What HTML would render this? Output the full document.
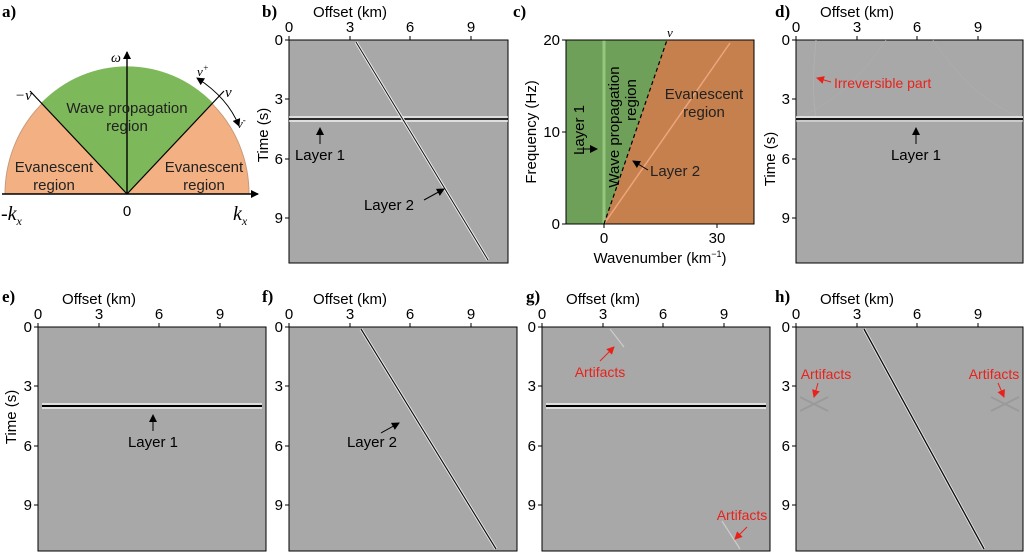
<!DOCTYPE html>
<html><head><meta charset="utf-8"><style>
body{margin:0;background:#fff}
svg{display:block;font-family:"Liberation Sans",sans-serif}
.pl{font-family:"Liberation Serif",serif;font-weight:bold;font-size:17px}
.t{font-size:15px}
.r{fill:#e8221b;font-size:14px}
</style></head><body>
<svg width="1024" height="552" viewBox="0 0 1024 552">
<defs>
<marker id="ah" markerWidth="8" markerHeight="8" refX="7" refY="4" orient="auto" markerUnits="userSpaceOnUse"><path d="M0,0 L8,4 L0,8 z" fill="#000"/></marker>
<marker id="ahs" markerWidth="8" markerHeight="8" refX="1" refY="4" orient="auto" markerUnits="userSpaceOnUse"><path d="M8,0 L0,4 L8,8 z" fill="#000"/></marker>
<marker id="ahr" markerWidth="8" markerHeight="8" refX="7" refY="4" orient="auto" markerUnits="userSpaceOnUse"><path d="M0,0 L8,4 L0,8 z" fill="#e8221b"/></marker>
</defs>

<!-- Panel a -->
<text class="pl" x="2" y="17">a)</text>
<path d="M5,194 A122,126 0 0 1 249,194 Z" fill="#f3b183" stroke="#c89a7a" stroke-width="1"/>
<path d="M127,194 L41,103 A122,126 0 0 1 213,103 Z" fill="#7db85a"/>
<line x1="127" y1="194" x2="30" y2="91" stroke="#000" stroke-width="1.2"/>
<line x1="127" y1="194" x2="224" y2="91" stroke="#000" stroke-width="1.2"/>
<line x1="2" y1="194" x2="258" y2="194" stroke="#000" stroke-width="1.4" marker-end="url(#ah)"/>
<line x1="127" y1="194" x2="127" y2="52" stroke="#000" stroke-width="1.4" marker-end="url(#ah)"/>
<path d="M197,78 Q228,98 239,126" fill="none" stroke="#000" stroke-width="1" marker-start="url(#ahs)" marker-end="url(#ah)"/>
<text x="111" y="62" font-family="Liberation Serif" font-style="italic" font-size="14">ω</text>
<text x="15" y="100" font-family="Liberation Serif" font-style="italic" font-size="15">−v</text>
<text x="225" y="97" font-family="Liberation Serif" font-style="italic" font-size="15">v</text>
<text x="197" y="76" font-family="Liberation Serif" font-style="italic" font-size="13">v<tspan font-size="9" dy="-5">+</tspan></text>
<text x="237" y="128" font-family="Liberation Serif" font-style="italic" font-size="13">v<tspan font-size="9" dy="-5">-</tspan></text>
<text class="t" x="127" y="113" text-anchor="middle" fill="#222">Wave propagation</text>
<text class="t" x="127" y="131" text-anchor="middle" fill="#222">region</text>
<text class="t" x="54" y="172" text-anchor="middle" fill="#222">Evanescent</text>
<text class="t" x="54" y="190" text-anchor="middle" fill="#222">region</text>
<text class="t" x="204" y="172" text-anchor="middle" fill="#222">Evanescent</text>
<text class="t" x="204" y="190" text-anchor="middle" fill="#222">region</text>
<text class="t" x="127" y="216" text-anchor="middle">0</text>
<text x="1" y="220" font-family="Liberation Serif" font-style="italic" font-size="20">-k<tspan font-size="12" dy="5">x</tspan></text>
<text x="233" y="220" font-family="Liberation Serif" font-style="italic" font-size="20">k<tspan font-size="12" dy="5">x</tspan></text>

<!-- Panel b -->
<text class="pl" x="262" y="17">b)</text>
<g transform="translate(289,40)">
<rect width="219" height="223" fill="#a8a8a8" stroke="#000"/>
<line x1="0" y1="77" x2="219" y2="77" stroke="#fff" stroke-width="1.2"/>
<line x1="0" y1="79" x2="219" y2="79" stroke="#000" stroke-width="1.5"/>
<line x1="0" y1="81" x2="219" y2="81" stroke="#fff" stroke-width="1.2"/>
<line x1="67" y1="2" x2="199" y2="220" stroke="#eee" stroke-width="3"/>
<line x1="67" y1="2" x2="199" y2="220" stroke="#111" stroke-width="1"/>
<line x1="31" y1="104" x2="31" y2="88" stroke="#000" marker-end="url(#ah)"/>
<text class="t" x="31" y="120" text-anchor="middle">Layer 1</text>
<line x1="135" y1="160" x2="155" y2="149" stroke="#000" marker-end="url(#ah)"/>
<text class="t" x="100" y="170" text-anchor="middle">Layer 2</text>
</g>

<!-- Panel c -->
<text class="pl" x="513" y="17">c)</text>
<g transform="translate(566,40)">
<rect width="188" height="184" fill="#c5804e"/>
<polygon points="0,0 101,0 38,184 0,184" fill="#6fa05a"/>
<line x1="38" y1="0" x2="38" y2="184" stroke="#a8d890" stroke-width="3" opacity="0.7"/>
<line x1="38" y1="184" x2="164" y2="3" stroke="#eea47c" stroke-width="1.5"/>
<line x1="38" y1="184" x2="101" y2="0" stroke="#000" stroke-width="1.2" stroke-dasharray="4,3"/>
<rect width="188" height="184" fill="none" stroke="#000"/>
<text class="t" transform="translate(18,90) rotate(-90)" text-anchor="middle">Layer 1</text>
<line x1="11" y1="109" x2="31" y2="109" stroke="#000" marker-end="url(#ah)"/>
<text class="t" transform="translate(53,87) rotate(-90)" text-anchor="middle">Wave propagation</text>
<text class="t" transform="translate(70,60) rotate(-90)" text-anchor="middle">region</text>
<text class="t" x="138" y="59" text-anchor="middle" fill="#222">Evanescent</text>
<text class="t" x="138" y="77" text-anchor="middle" fill="#222">region</text>
<line x1="82" y1="130" x2="67" y2="121" stroke="#000" marker-end="url(#ah)"/>
<text class="t" x="84" y="136" fill="#222">Layer 2</text>
<text x="101" y="-3" font-family="Liberation Serif" font-style="italic" font-size="13">v</text>
<g stroke="#000"><line x1="-4" y1="0" x2="0" y2="0"/><line x1="-4" y1="92" x2="0" y2="92"/><line x1="-4" y1="184" x2="0" y2="184"/><line x1="38" y1="184" x2="38" y2="188"/><line x1="151" y1="184" x2="151" y2="188"/></g>
<text class="t" x="-6" y="5" text-anchor="end">20</text>
<text class="t" x="-6" y="97" text-anchor="end">10</text>
<text class="t" x="-6" y="189" text-anchor="end">0</text>
<text class="t" x="38" y="203" text-anchor="middle">0</text>
<text class="t" x="151" y="203" text-anchor="middle">30</text>
<text class="t" x="94" y="223" text-anchor="middle">Wavenumber (km<tspan font-size="9" dy="-6">−1</tspan><tspan dy="6">)</tspan></text>
<text class="t" transform="translate(-30,92) rotate(-90)" text-anchor="middle">Frequency (Hz)</text>
</g>

<!-- Panel d -->
<text class="pl" x="775" y="17">d)</text>
<g transform="translate(796,40)">
<rect width="227" height="223" fill="#a8a8a8" stroke="#000"/>
<path d="M20,0 Q15,50 20,78" stroke="#b0b0b0" fill="none"/>
<path d="M0,78 Q50,60 90,0" stroke="#acacac" fill="none"/>
<path d="M227,78 Q177,60 137,0" stroke="#acacac" fill="none"/>
<line x1="0" y1="77" x2="227" y2="77" stroke="#fff" stroke-width="1.2"/>
<line x1="0" y1="79" x2="227" y2="79" stroke="#000" stroke-width="1.8"/>
<line x1="0" y1="81" x2="227" y2="81" stroke="#eee" stroke-width="1"/>
<line x1="120" y1="104" x2="120" y2="88" stroke="#000" marker-end="url(#ah)"/>
<text class="t" x="120" y="120" text-anchor="middle">Layer 1</text>
<line x1="35" y1="42" x2="21" y2="38" stroke="#e8221b" marker-end="url(#ahr)"/>
<text class="r" x="38" y="48">Irreversible part</text>
</g>

<!-- Panel e -->
<text class="pl" x="2" y="302">e)</text>
<g transform="translate(38,327)">
<rect width="228" height="224" fill="#a8a8a8" stroke="#000"/>
<line x1="4" y1="77" x2="224" y2="77" stroke="#fff" stroke-width="1.2"/>
<line x1="4" y1="79" x2="224" y2="79" stroke="#000" stroke-width="2"/>
<line x1="4" y1="81" x2="224" y2="81" stroke="#fff" stroke-width="1.2"/>
<line x1="115" y1="104" x2="115" y2="88" stroke="#000" marker-end="url(#ah)"/>
<text class="t" x="115" y="120" text-anchor="middle">Layer 1</text>
</g>

<!-- Panel f -->
<text class="pl" x="262" y="302">f)</text>
<g transform="translate(289,327)">
<rect width="228" height="224" fill="#a8a8a8" stroke="#000"/>
<line x1="72" y1="2" x2="207" y2="222" stroke="#eee" stroke-width="3"/>
<line x1="72" y1="2" x2="207" y2="222" stroke="#111" stroke-width="1.2"/>
<line x1="92" y1="106" x2="110" y2="96" stroke="#000" marker-end="url(#ah)"/>
<text class="t" x="83" y="120" text-anchor="middle">Layer 2</text>
</g>

<!-- Panel g -->
<text class="pl" x="526" y="302">g)</text>
<g transform="translate(542,327)">
<rect width="228" height="224" fill="#a8a8a8" stroke="#000"/>
<line x1="68" y1="2" x2="82" y2="20" stroke="#ccc" stroke-width="1.2"/>
<line x1="180" y1="194" x2="198" y2="222" stroke="#ccc" stroke-width="1.2"/>
<line x1="4" y1="77" x2="224" y2="77" stroke="#fff" stroke-width="1.2"/>
<line x1="4" y1="79" x2="224" y2="79" stroke="#000" stroke-width="2"/>
<line x1="4" y1="81" x2="224" y2="81" stroke="#fff" stroke-width="1.2"/>
<line x1="58" y1="34" x2="72" y2="20" stroke="#e8221b" marker-end="url(#ahr)"/>
<text class="r" x="58" y="50" text-anchor="middle">Artifacts</text>
<line x1="205" y1="200" x2="193" y2="212" stroke="#e8221b" marker-end="url(#ahr)"/>
<text class="r" x="200" y="193" text-anchor="middle">Artifacts</text>
</g>

<!-- Panel h -->
<text class="pl" x="775" y="302">h)</text>
<g transform="translate(796,327)">
<rect width="227" height="224" fill="#a8a8a8" stroke="#000"/>
<path d="M4,70 L32,84 M4,84 L32,70" stroke="#9a9a9a" stroke-width="2"/>
<path d="M195,70 L223,84 M195,84 L223,70" stroke="#9a9a9a" stroke-width="2"/>
<line x1="68" y1="2" x2="188" y2="222" stroke="#eee" stroke-width="3"/>
<line x1="68" y1="2" x2="188" y2="222" stroke="#111" stroke-width="1.4"/>
<line x1="22" y1="56" x2="18" y2="70" stroke="#e8221b" marker-end="url(#ahr)"/>
<text class="r" x="30" y="52" text-anchor="middle">Artifacts</text>
<line x1="202" y1="56" x2="208" y2="70" stroke="#e8221b" marker-end="url(#ahr)"/>
<text class="r" x="198" y="52" text-anchor="middle">Artifacts</text>
</g>

<!-- Axes -->
<g class="t">
<g transform="translate(289,40)">
<text x="61" y="-23" text-anchor="middle">Offset (km)</text>
<g stroke="#000"><line x1="0" y1="0" x2="0" y2="-4"/><line x1="61" y1="0" x2="61" y2="-4"/><line x1="121" y1="0" x2="121" y2="-4"/><line x1="182" y1="0" x2="182" y2="-4"/>
<line x1="0" y1="0" x2="-4" y2="0"/><line x1="0" y1="59" x2="-4" y2="59"/><line x1="0" y1="119" x2="-4" y2="119"/><line x1="0" y1="178" x2="-4" y2="178"/></g>
<text x="0" y="-8" text-anchor="middle">0</text><text x="61" y="-8" text-anchor="middle">3</text><text x="121" y="-8" text-anchor="middle">6</text><text x="182" y="-8" text-anchor="middle">9</text>
<text x="-6" y="5" text-anchor="end">0</text><text x="-6" y="64" text-anchor="end">3</text><text x="-6" y="124" text-anchor="end">6</text><text x="-6" y="183" text-anchor="end">9</text>
<text transform="translate(-21,95) rotate(-90)" text-anchor="middle">Time (s)</text>
</g>
<g transform="translate(796,40)">
<text x="61" y="-23" text-anchor="middle">Offset (km)</text>
<g stroke="#000"><line x1="0" y1="0" x2="0" y2="-4"/><line x1="61" y1="0" x2="61" y2="-4"/><line x1="121" y1="0" x2="121" y2="-4"/><line x1="182" y1="0" x2="182" y2="-4"/>
<line x1="0" y1="0" x2="-4" y2="0"/><line x1="0" y1="59" x2="-4" y2="59"/><line x1="0" y1="119" x2="-4" y2="119"/><line x1="0" y1="178" x2="-4" y2="178"/></g>
<text x="0" y="-8" text-anchor="middle">0</text><text x="61" y="-8" text-anchor="middle">3</text><text x="121" y="-8" text-anchor="middle">6</text><text x="182" y="-8" text-anchor="middle">9</text>
<text x="-6" y="5" text-anchor="end">0</text><text x="-6" y="64" text-anchor="end">3</text><text x="-6" y="124" text-anchor="end">6</text><text x="-6" y="183" text-anchor="end">9</text>
<text transform="translate(-21,119) rotate(-90)" text-anchor="middle">Time (s)</text>
</g>
<g transform="translate(38,327)">
<text x="61" y="-23" text-anchor="middle">Offset (km)</text>
<g stroke="#000"><line x1="0" y1="0" x2="0" y2="-4"/><line x1="61" y1="0" x2="61" y2="-4"/><line x1="121" y1="0" x2="121" y2="-4"/><line x1="182" y1="0" x2="182" y2="-4"/>
<line x1="0" y1="0" x2="-4" y2="0"/><line x1="0" y1="59" x2="-4" y2="59"/><line x1="0" y1="119" x2="-4" y2="119"/><line x1="0" y1="178" x2="-4" y2="178"/></g>
<text x="0" y="-8" text-anchor="middle">0</text><text x="61" y="-8" text-anchor="middle">3</text><text x="121" y="-8" text-anchor="middle">6</text><text x="182" y="-8" text-anchor="middle">9</text>
<text x="-6" y="5" text-anchor="end">0</text><text x="-6" y="64" text-anchor="end">3</text><text x="-6" y="124" text-anchor="end">6</text><text x="-6" y="183" text-anchor="end">9</text>
<text transform="translate(-22,90) rotate(-90)" text-anchor="middle">Time (s)</text>
</g>
<g transform="translate(289,327)">
<text x="61" y="-23" text-anchor="middle">Offset (km)</text>
<g stroke="#000"><line x1="0" y1="0" x2="0" y2="-4"/><line x1="61" y1="0" x2="61" y2="-4"/><line x1="121" y1="0" x2="121" y2="-4"/><line x1="182" y1="0" x2="182" y2="-4"/>
<line x1="0" y1="0" x2="-4" y2="0"/><line x1="0" y1="59" x2="-4" y2="59"/><line x1="0" y1="119" x2="-4" y2="119"/><line x1="0" y1="178" x2="-4" y2="178"/></g>
<text x="0" y="-8" text-anchor="middle">0</text><text x="61" y="-8" text-anchor="middle">3</text><text x="121" y="-8" text-anchor="middle">6</text><text x="182" y="-8" text-anchor="middle">9</text>
<text x="-6" y="5" text-anchor="end">0</text><text x="-6" y="64" text-anchor="end">3</text><text x="-6" y="124" text-anchor="end">6</text><text x="-6" y="183" text-anchor="end">9</text>
</g>
<g transform="translate(542,327)">
<text x="61" y="-23" text-anchor="middle">Offset (km)</text>
<g stroke="#000"><line x1="0" y1="0" x2="0" y2="-4"/><line x1="61" y1="0" x2="61" y2="-4"/><line x1="121" y1="0" x2="121" y2="-4"/><line x1="182" y1="0" x2="182" y2="-4"/>
<line x1="0" y1="0" x2="-4" y2="0"/><line x1="0" y1="59" x2="-4" y2="59"/><line x1="0" y1="119" x2="-4" y2="119"/><line x1="0" y1="178" x2="-4" y2="178"/></g>
<text x="0" y="-8" text-anchor="middle">0</text><text x="61" y="-8" text-anchor="middle">3</text><text x="121" y="-8" text-anchor="middle">6</text><text x="182" y="-8" text-anchor="middle">9</text>
<text x="-6" y="5" text-anchor="end">0</text><text x="-6" y="64" text-anchor="end">3</text><text x="-6" y="124" text-anchor="end">6</text><text x="-6" y="183" text-anchor="end">9</text>
</g>
<g transform="translate(796,327)">
<text x="61" y="-23" text-anchor="middle">Offset (km)</text>
<g stroke="#000"><line x1="0" y1="0" x2="0" y2="-4"/><line x1="61" y1="0" x2="61" y2="-4"/><line x1="121" y1="0" x2="121" y2="-4"/><line x1="182" y1="0" x2="182" y2="-4"/>
<line x1="0" y1="0" x2="-4" y2="0"/><line x1="0" y1="59" x2="-4" y2="59"/><line x1="0" y1="119" x2="-4" y2="119"/><line x1="0" y1="178" x2="-4" y2="178"/></g>
<text x="0" y="-8" text-anchor="middle">0</text><text x="61" y="-8" text-anchor="middle">3</text><text x="121" y="-8" text-anchor="middle">6</text><text x="182" y="-8" text-anchor="middle">9</text>
<text x="-6" y="5" text-anchor="end">0</text><text x="-6" y="64" text-anchor="end">3</text><text x="-6" y="124" text-anchor="end">6</text><text x="-6" y="183" text-anchor="end">9</text>
</g>
</g>
</svg>
</body></html>
